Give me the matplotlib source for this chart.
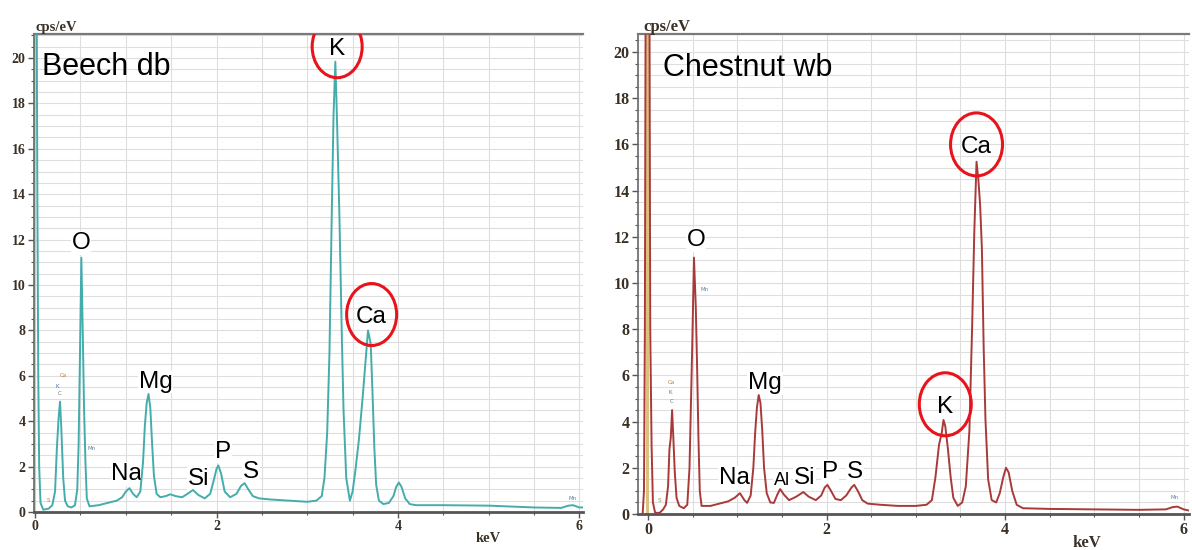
import matplotlib
matplotlib.use("Agg")
import matplotlib.pyplot as plt
from matplotlib.patches import Ellipse
from matplotlib.ticker import MultipleLocator

# ---- spectrum values (keV, cps/eV) ----
beech_kev = [0.0, 0.015, 0.025, 0.035, 0.045, 0.06, 0.09, 0.15, 0.19, 0.22, 0.24, 0.26,
             0.275, 0.29, 0.31, 0.33, 0.36, 0.40, 0.44, 0.465, 0.48, 0.495, 0.51, 0.525,
             0.54, 0.555, 0.57, 0.60, 0.70, 0.80, 0.90, 0.96, 1.00, 1.04, 1.08, 1.12,
             1.16, 1.19, 1.21, 1.23, 1.25, 1.27, 1.29, 1.31, 1.34, 1.38, 1.44, 1.49,
             1.55, 1.62, 1.68, 1.74, 1.80, 1.87, 1.93, 1.97, 2.00, 2.02, 2.05, 2.09,
             2.15, 2.22, 2.27, 2.31, 2.35, 2.40, 2.47, 2.6, 2.8, 3.0, 3.10, 3.16, 3.19,
             3.22, 3.245, 3.27, 3.29, 3.31, 3.33, 3.355, 3.38, 3.40, 3.43, 3.47, 3.50,
             3.53, 3.57, 3.61, 3.64, 3.67, 3.70, 3.72, 3.74, 3.76, 3.79, 3.84, 3.90,
             3.95, 3.98, 4.01, 4.04, 4.08, 4.13, 4.2, 4.5, 5.0, 5.5, 5.8, 5.88, 5.93,
             6.0, 6.05]
beech_cps = [25, 25, 14, 6, 2.0, 0.4, 0.1, 0.15, 0.3, 0.9, 2.8, 4.2,
             4.86, 3.6, 1.5, 0.5, 0.25, 0.2, 0.3, 1.0, 3.0, 7.0, 11.2, 8.0,
             4.5, 2.2, 0.6, 0.25, 0.3, 0.4, 0.5, 0.65, 0.9, 1.05, 0.8, 0.65,
             0.9, 2.2, 3.8, 4.8, 5.2, 4.6, 3.0, 1.6, 0.8, 0.65, 0.7, 0.78,
             0.7, 0.65, 0.8, 0.97, 0.75, 0.6, 0.8, 1.4, 1.9, 2.05, 1.7, 0.9,
             0.65, 0.8, 1.15, 1.27, 1.0, 0.7, 0.6, 0.55, 0.5, 0.45, 0.5, 0.7, 1.5,
             3.5, 7.0, 13.0, 17.5, 19.84, 17.0, 13.0, 8.0, 4.5, 1.5, 0.5, 0.9,
             1.8, 3.2, 5.0, 6.5, 8.0, 7.4, 5.2, 2.8, 1.2, 0.5, 0.35, 0.4,
             0.7, 1.1, 1.3, 1.1, 0.6, 0.35, 0.3, 0.3, 0.28, 0.2, 0.18, 0.28, 0.3,
             0.2, 0.2]

chestnut_kev = [-0.06, -0.045, -0.035, -0.025, 0.015, 0.025, 0.04, 0.055, 0.08, 0.13,
                0.17, 0.2, 0.225, 0.24, 0.255, 0.27, 0.285, 0.30, 0.32, 0.35, 0.40,
                0.44, 0.465, 0.48, 0.495, 0.515, 0.535, 0.55, 0.565, 0.58, 0.60, 0.70,
                0.80, 0.90, 0.97, 1.03, 1.08, 1.11, 1.15, 1.18, 1.20, 1.22, 1.24, 1.26,
                1.28, 1.30, 1.33, 1.37, 1.41, 1.45, 1.48, 1.52, 1.58, 1.66, 1.74, 1.80,
                1.88, 1.94, 1.98, 2.01, 2.05, 2.10, 2.16, 2.22, 2.28, 2.31, 2.35, 2.40,
                2.46, 2.6, 2.8, 3.0, 3.12, 3.18, 3.22, 3.26, 3.29, 3.31, 3.33, 3.36,
                3.39, 3.42, 3.47, 3.52, 3.56, 3.60, 3.63, 3.655, 3.68, 3.70, 3.72, 3.74,
                3.76, 3.78, 3.81, 3.85, 3.90, 3.94, 3.98, 4.01, 4.04, 4.08, 4.13, 4.2,
                4.5, 5.0, 5.5, 5.8, 5.88, 5.93, 6.0, 6.06]
chestnut_cps = [0.0, 1.0, 8, 25, 25, 8.0, 3.0, 0.5, 0.05, 0.05,
                0.2, 0.4, 1.2, 2.8, 3.3, 4.5, 3.2, 1.8, 0.7, 0.35, 0.25,
                0.4, 2.0, 4.6, 7.2, 11.1, 9.0, 6.4, 3.3, 1.0, 0.35, 0.35,
                0.45, 0.55, 0.7, 0.9, 0.6, 0.48, 0.8, 2.0, 3.5, 4.6, 5.15, 4.8,
                3.6, 2.0, 0.9, 0.5, 0.48, 0.85, 1.08, 0.85, 0.6, 0.75, 0.95, 0.75,
                0.6, 0.8, 1.15, 1.26, 1.0, 0.65, 0.6, 0.8, 1.15, 1.26, 1.0, 0.6,
                0.45, 0.4, 0.35, 0.35, 0.4, 0.6, 1.6, 3.0, 3.5, 4.07, 3.8, 2.8,
                1.6, 0.7, 0.35, 0.5, 1.2, 3.6, 8.0, 12.2, 15.25, 14.5, 13.4, 11.5,
                7.2, 4.1, 1.5, 0.6, 0.5, 0.9, 1.6, 2.0, 1.8, 1.0, 0.4, 0.25,
                0.22, 0.2, 0.18, 0.2, 0.3, 0.32, 0.2, 0.15]

# element labels (name, keV, cps/eV where the text sits)
beech_elements = ["O", "Na", "Mg", "Si", "P", "S", "K", "Ca"]
beech_el_kev = [0.51, 1.01, 1.33, 1.80, 2.07, 2.38, 3.33, 3.71]
beech_el_cps = [11.85, 1.67, 5.74, 1.45, 2.66, 1.78, 20.4, 8.6]

chestnut_elements = ["O", "Na", "Mg", "Al", "Si", "P", "S", "K", "Ca"]
chestnut_el_kev = [0.54, 0.97, 1.31, 1.50, 1.75, 2.04, 2.32, 3.33, 3.68]
chestnut_el_cps = [11.86, 1.55, 5.66, 1.47, 1.55, 1.83, 1.83, 4.65, 15.9]

circled = ["K", "Ca"]

# tiny marker labels from the EDX software
beech_marks = ["Ca", "K", "C", "Mn", "S", "Mn"]
beech_mark_kev = [0.31, 0.245, 0.275, 0.62, 0.15, 5.92]
beech_mark_cps = [6.0, 5.55, 5.2, 2.8, 0.5, 0.6]
chestnut_marks = ["Ca", "K", "C", "Mn", "S", "Mn"]
chestnut_mark_kev = [0.26, 0.25, 0.26, 0.63, 0.13, 5.9]
chestnut_mark_cps = [5.71, 5.28, 4.85, 9.7, 0.6, 0.7]
mark_colors = {"Ca": "#c07a30", "K": "#5070b0", "C": "#707070", "Mn": "#6080a0", "S": "#c08040"}

W, H = 1192, 550
fig = plt.figure(figsize=(W / 100, H / 100), dpi=100)

TICKFONT = "Liberation Serif"
LABELFONT = "Liberation Sans"


def draw_panel(ax, kev, cps, color, band_color, band, xlim, ylim,
               title, elements, el_kev, el_cps, marks, mark_kev, mark_cps,
               tick_size, circle_px, px_per_kev, px_per_cps):
    ax.axvspan(band[0], band[1], color=band_color, lw=0, zorder=1)
    ax.plot(kev, cps, color=color, lw=1.4, zorder=3)
    ax.set_xlim(*xlim)
    ax.set_ylim(*ylim)

    ax.xaxis.set_major_locator(MultipleLocator(2))
    ax.xaxis.set_minor_locator(MultipleLocator(0.5))
    ax.yaxis.set_major_locator(MultipleLocator(2))
    ax.yaxis.set_minor_locator(MultipleLocator(0.5))
    ax.grid(which="both", color="#dedede", lw=0.8, zorder=0)
    ax.set_axisbelow(True)
    ax.tick_params(which="major", length=4, width=1, color="#555555",
                   labelsize=tick_size, labelcolor="#3a3026", pad=2)
    ax.tick_params(which="minor", length=2, width=0.8, color="#555555")
    for lab in ax.get_xticklabels() + ax.get_yticklabels():
        lab.set_fontfamily(TICKFONT)
        lab.set_fontweight("bold")

    ax.spines["right"].set_visible(False)
    ax.spines["top"].set_color("#7a7a7a")
    ax.spines["top"].set_linewidth(1.6)
    ax.spines["left"].set_color("#666666")
    ax.spines["left"].set_linewidth(1.2)
    ax.spines["bottom"].set_color("#555555")
    ax.spines["bottom"].set_linewidth(2)

    ax.text(0.015 if xlim[0] > -0.05 else 0.045, 0.93, title, transform=ax.transAxes,
            fontsize=22, family=LABELFONT, ha="left", va="center", zorder=5)

    for name, x, y in zip(elements, el_kev, el_cps):
        size = 13 if name == "Al" else 17.5
        if name in circled:
            ax.text(x, y, name, fontsize=size, family=LABELFONT, ha="center",
                    va="center", zorder=5)
            w = circle_px[0] / px_per_kev
            h = circle_px[1] / px_per_cps
            ax.add_patch(Ellipse((x, y + 0.1), w, h, fill=False,
                                 edgecolor="#e8141c", lw=2.2, zorder=6))
        else:
            # white box hides the grid behind the text, spectrum stays on top
            ax.text(x, y, name, fontsize=size, family=LABELFONT, ha="center",
                    va="center", zorder=2,
                    bbox=dict(facecolor="white", edgecolor="none", pad=0.5))

    for name, x, y in zip(marks, mark_kev, mark_cps):
        ax.text(x, y, name, fontsize=4, color=mark_colors[name], ha="center",
                va="center", zorder=4)


# left panel: Beech db
ax1 = fig.add_axes([34 / W, 1 - 512 / H, (583 - 34) / W, (512 - 34) / H])
draw_panel(ax1, beech_kev, beech_cps, "#45acac", "#a8e6a8", (-0.02, 0.012),
           (-0.012, 6.04), (0, 21.06), "Beech db",
           beech_elements, beech_el_kev, beech_el_cps,
           beech_marks, beech_mark_kev, beech_mark_cps,
           10, (50, 62), 90.7, 22.7)

# right panel: Chestnut wb
ax2 = fig.add_axes([638 / W, 1 - 514 / H, (1189 - 638) / W, (514 - 34) / H])
draw_panel(ax2, chestnut_kev, chestnut_cps, "#a83a3a", "#dcc080", (-0.02, 0.015),
           (-0.112, 6.06), (0, 20.78), "Chestnut wb",
           chestnut_elements, chestnut_el_kev, chestnut_el_cps,
           chestnut_marks, chestnut_mark_kev, chestnut_mark_cps,
           11.5, (52, 63), 89.3, 23.1)

# unit labels
fig.text(35 / W, 1 - 27 / H, "cps/eV", fontsize=10.5, family=TICKFONT,
         fontweight="bold", color="#3a3026", ha="left", va="center")
fig.text(643 / W, 1 - 27 / H, "cps/eV", fontsize=12, family=TICKFONT,
         fontweight="bold", color="#3a3026", ha="left", va="center")
fig.text(488 / W, 1 - 538 / H, "keV", fontsize=10.5, family=TICKFONT,
         fontweight="bold", color="#3a3026", ha="center", va="center")
fig.text(1087 / W, 1 - 543 / H, "keV", fontsize=12, family=TICKFONT,
         fontweight="bold", color="#3a3026", ha="center", va="center")

fig.savefig("out.png", dpi=100)
